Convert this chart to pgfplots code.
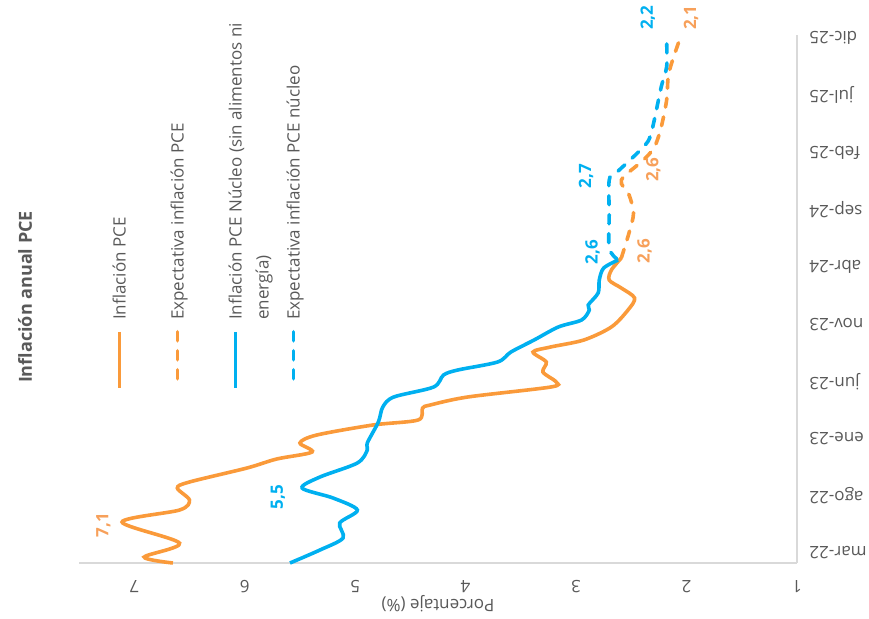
\documentclass[border=0pt]{standalone}
\usepackage{fontspec}
\setmainfont{Open Sans}
\usepackage{graphicx}
\usepackage{pgfplots}
\pgfplotsset{compat=1.18}
\definecolor{orangeL}{RGB}{250,154,58}
\definecolor{blueL}{RGB}{0,176,240}
\definecolor{txtgray}{RGB}{89,89,89}
\definecolor{axgray}{RGB}{217,217,217}
\definecolor{orangeT}{RGB}{247,160,90}
\newcommand{\legtxt}[1]{\makebox[58bp][l]{\rotatebox{90}{\strut #1}}}
\begin{document}
\begin{tikzpicture}
\path[use as bounding box] (0,0) rectangle (869bp,619bp);
\begin{axis}[
  at={(438bp,320bp)}, anchor=center,
  scale only axis, width=718bp, height=528bp,
  x dir=reverse,
  xmin=1, xmax=7.5, ymin=-0.87, ymax=45.28,
  axis x line*=bottom, axis y line*=right,
  axis line style={axgray, line width=1.5bp, -},
  xtick={1,2,3,4,5,6,7}, ytick={0,5,10,15,20,25,30,35,40,45},
  yticklabels={mar-22,ago-22,ene-23,jun-23,nov-23,abr-24,sep-24,feb-25,jul-25,dic-25},
  major tick length=0pt,
  /pgf/number format/assume math mode=true,
  tick label style={font=\fontsize{17bp}{20bp}\selectfont, text=txtgray},
  xticklabel style={rotate=180, anchor=south, yshift=14bp},
  yticklabel style={rotate=180, anchor=east, xshift=-9bp},
  xlabel={Porcentaje (\%)},
  xlabel style={at={(axis description cs:0.5,0)}, anchor=center, rotate=180, yshift=41bp, font=\fontsize{17bp}{20bp}\selectfont, text=txtgray},
  clip=false,
  legend columns=4,
  legend style={at={(axis cs:7.21,20.37)}, anchor=south west, draw=none, fill=none, inner sep=0pt,
    font=\fontsize{17bp}{20.5bp}\selectfont, nodes={text=txtgray, inner sep=0pt, text depth=0pt},
    /tikz/column sep=0pt, cells={anchor=base west}},
  legend image code/.code={\draw[#1, overlay] (8.3bp,-12bp) -- (8.3bp,-68bp);},
]
\addplot[orangeL, line width=3.6bp, smooth] coordinates {
(6.65,-0.87)(6.91,-0.35)(6.59,0.87)(7.11,2.71)(6.59,3.76)(6.50,4.63)(6.61,5.68)(6.50,6.21)(5.98,7.43)(5.71,8.22)(5.39,8.83)(5.50,9.62)(5.35,10.31)(4.84,11.19)(4.43,11.63)(4.39,12.67)(4.32,12.94)(3.98,13.64)(3.23,14.51)(3.18,14.95)(3.30,15.82)(3.27,16.70)(3.39,17.57)(3.23,18.01)(2.93,18.62)(2.68,19.76)(2.53,21.24)(2.47,22.29)(2.59,23.16)(2.70,23.86)(2.68,24.74)(2.59,25.79)
};
\addlegendentry{\legtxt{Inflación PCE}}
\addplot[orangeL, line width=3.6bp, smooth, line cap=round, dash pattern=on 9bp off 10bp] coordinates {
(2.59,25.8)(2.52,28.0)(2.48,29.7)(2.52,31.3)(2.59,32.6)(2.39,34.35)(2.29,35.5)(2.23,37.2)(2.18,39.6)(2.16,41.96)(2.07,44.67)
};
\addlegendentry{\legtxt{Expectativa inflación PCE}}
\addplot[blueL, line width=3.6bp, smooth] coordinates {
(5.59,-0.87)(5.32,0.26)(5.11,1.31)(5.14,2.62)(4.98,3.76)(5.20,4.81)(5.48,5.68)(5.32,6.64)(4.98,7.87)(4.89,9.00)(4.89,9.62)(4.79,11.45)(4.75,12.76)(4.65,13.64)(4.29,14.51)(4.20,15.56)(4.07,16.0)(3.71,16.70)(3.59,17.57)(3.38,18.62)(3.16,19.76)(2.95,20.37)(2.88,21.24)(2.89,21.68)(2.80,22.73)(2.79,23.86)(2.75,24.91)(2.62,25.61)
};
\addlegendentry{\makebox[58bp][l]{\rotatebox{90}{\begin{tabular}[t]{@{}l@{}}\strut Inflación PCE Núcleo (sin alimentos ni\\[6.5bp]energía)\end{tabular}}}}
\addplot[blueL, line width=3.6bp, smooth, line cap=round, dash pattern=on 9bp off 10bp] coordinates {
(2.63,25.7)(2.70,26.66)(2.70,29.6)(2.70,32.6)(2.64,33.2)(2.39,35.5)(2.32,36.7)(2.23,40.7)(2.18,42.5)(2.18,44.6)
};
\addlegendentry{\rotatebox{90}{\strut Expectativa inflación PCE núcleo}}
\begin{scope}[every node/.style={rotate=90, font=\bfseries\fontsize{17bp}{20bp}\selectfont}]
\node[text=orangeT] at (axis cs:7.28,2.45) {7,1};
\node[text=blueL] at (axis cs:5.70,4.9) {5,5};
\node[text=blueL] at (axis cs:2.85,26.3) {2,6};
\node[text=orangeT] at (axis cs:2.38,26.4) {2,6};
\node[text=blueL] at (axis cs:2.91,32.95) {2,7};
\node[text=orangeT] at (axis cs:2.30,33.5) {2,6};
\node[text=blueL] at (axis cs:2.35,46.8) {2,2};
\node[text=orangeT] at (axis cs:1.96,46.8) {2,1};
\end{scope}
\end{axis}
\node[rotate=90, font=\bfseries\fontsize{18bp}{21bp}\selectfont, text=txtgray] at (25bp,322bp) {Inflación anual PCE};
\end{tikzpicture}
\end{document}
